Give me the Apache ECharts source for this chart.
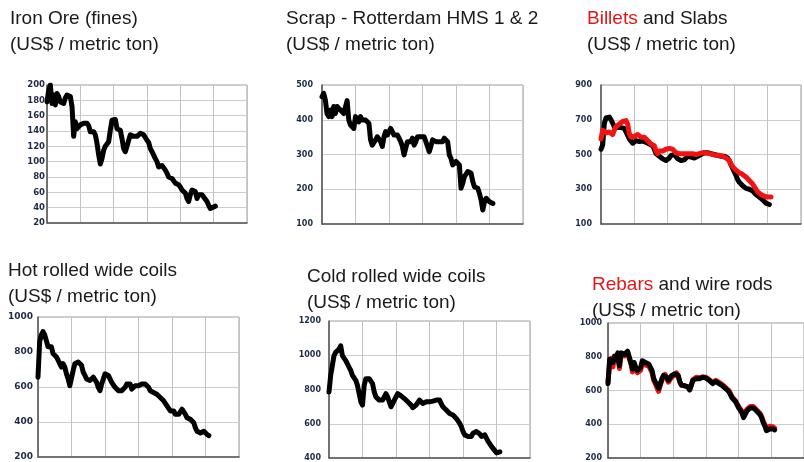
<!DOCTYPE html>
<html><head><meta charset="utf-8">
<script src="https://cdn.jsdelivr.net/npm/echarts@6/dist/echarts.min.js"></script>
<style>html,body{margin:0;padding:0;background:#fff}#c{width:804px;height:462px}</style>
</head><body><div id="c"></div>
<script>
// ---- data (half-step sampling along the time axis) ----
const ironOre = [178,193,200,176,187,174,189,185,178,180,176,183,187,189,185,172,133,152,143,145,148,148,150,151,150,147,139,139,139,135,124,109,97,104,115,120,120,126,141,154,155,155,143,141,141,130,117,113,120,128,135,137,133,135,133,135,137,139,135,133,128,125,117,113,115,104,100,93,95,95,93,89,85,80,80,78,76,72,70,70,67,63,63,59,52,48,57,63,65,61,52,57,59,57,54,52,48,43,39,41,41,42];
const scrap = [466,476,457,418,409,428,409,438,418,438,433,428,423,418,414,455,399,385,380,375,409,414,394,409,399,404,399,394,390,342,327,327,342,351,347,337,323,351,366,356,366,375,366,356,361,356,347,337,323,299,318,337,342,337,347,327,337,351,351,351,347,351,347,323,308,323,342,347,337,332,337,332,337,347,351,337,299,289,270,265,280,284,270,203,217,236,241,251,255,246,222,207,212,203,188,169,140,164,174,169,164,164,159];
const slabs = [530,555,680,710,720,715,700,680,660,650,655,650,655,660,650,640,610,590,580,565,570,580,575,575,580,578,575,570,565,560,555,550,530,505,495,490,480,475,470,465,465,480,495,505,500,490,475,470,465,465,470,480,490,490,485,480,480,485,490,495,500,505,510,515,510,505,505,500,500,495,495,490,490,495,490,485,480,465,440,420,400,380,355,340,330,320,310,305,300,300,295,290,280,270,265,255,245,240,230,220,212,212];
const billets = [590,640,645,625,620,630,625,615,640,660,670,675,680,690,690,695,675,620,600,590,605,595,615,605,600,605,600,595,580,570,560,555,550,520,505,520,510,520,525,530,530,535,530,530,525,510,505,505,510,505,500,505,510,505,500,505,500,500,505,505,505,510,510,508,505,505,500,500,495,495,490,495,490,490,485,480,475,465,445,430,420,410,400,395,390,385,380,370,360,350,345,330,315,300,285,275,270,265,260,258,255,252,255];
const hotRolled = [656,860,898,917,898,907,830,820,830,791,791,772,753,733,714,733,714,675,646,607,607,695,733,743,743,733,724,685,666,646,646,637,646,656,646,627,598,579,617,646,675,685,666,646,627,617,598,588,579,569,579,588,598,617,627,617,588,598,607,607,607,617,617,617,617,607,598,579,569,569,559,559,550,540,530,521,511,492,482,463,453,463,444,434,444,453,473,463,444,424,415,415,415,396,366,347,337,337,347,347,337,328,322];
const coldRolled = [785,882,940,998,1017,1007,1036,1055,998,988,969,950,930,911,882,872,853,824,776,728,709,824,863,872,863,853,834,786,757,757,738,728,738,757,776,757,728,699,718,738,757,776,770,763,757,747,738,728,718,709,694,699,709,718,738,738,718,709,728,738,728,728,732,738,738,747,738,718,699,689,680,670,660,651,651,641,631,622,603,583,555,535,545,526,516,526,545,555,555,545,540,526,526,535,526,497,487,468,458,443,430,430,436];
const wireRods = [641,785,785,766,804,785,823,747,823,833,814,814,833,823,766,727,766,737,718,718,737,776,776,766,766,756,737,718,670,651,632,612,641,670,689,699,679,660,670,689,679,699,708,689,651,632,632,628,632,622,603,632,660,670,670,679,670,679,679,679,673,670,660,651,641,651,654,647,641,632,628,622,612,603,593,574,555,545,535,526,497,487,468,439,458,478,487,497,487,497,487,478,468,458,439,410,391,362,353,372,382,372,366];
const rebars = [650,760,790,740,800,770,815,730,815,820,805,800,820,810,760,710,750,725,705,700,720,765,770,750,755,745,725,705,660,640,615,595,630,660,680,695,670,650,660,680,675,690,705,685,650,630,630,628,630,620,605,630,665,675,678,685,675,682,680,682,678,675,665,655,648,655,660,653,648,638,635,628,618,610,600,582,562,552,540,530,505,495,478,448,468,488,498,505,498,505,495,485,475,465,448,420,400,380,375,388,392,385,378];

const titles = [
  ['Iron Ore (fines)', '(US$ / metric ton)'],
  ['Scrap - Rotterdam HMS 1 & 2', '(US$ / metric ton)'],
  ['{r|Billets} and Slabs', '(US$ / metric ton)'],
  ['Hot rolled wide coils', '(US$ / metric ton)'],
  ['Cold rolled wide coils', '(US$ / metric ton)'],
  ['{r|Rebars} and wire rods', '(US$ / metric ton)']
];
const yRanges = [[20,200,20],[100,500,100],[100,900,200],[200,1000,200],[400,1200,200],[200,1000,200]];

// ---- layout / style ----
const BLACK = '#000000', RED = '#f21212';
const panels = [
  {grid:{left:47,top:85,width:200,height:138}, title:{left:10,top:6}, lab:8.5, mar:2, series:[[ironOre,BLACK]]},
  {grid:{left:322,top:85,width:201,height:139}, title:{left:286,top:6}, lab:8, mar:9, series:[[scrap,BLACK]]},
  {grid:{left:601,top:85,width:200,height:139}, title:{left:587,top:6}, lab:8, mar:9, series:[[slabs,BLACK],[billets,RED]]},
  {grid:{left:38,top:317,width:201,height:140}, title:{left:8,top:258}, lab:9, mar:5, series:[[hotRolled,BLACK]]},
  {grid:{left:329,top:321,width:201,height:138}, title:{left:307,top:264}, lab:8, mar:8, series:[[coldRolled,BLACK]]},
  {grid:{left:608,top:323,width:201,height:139}, title:{left:592,top:272}, lab:8, mar:6, series:[[rebars,RED],[wireRods,BLACK]]}
];

const titleStyle = {fontFamily:'Liberation Sans', fontSize:19, fontWeight:'normal', color:'#1a1a1a', lineHeight:26,
  rich:{r:{color:'#e3161b', fontFamily:'Liberation Sans', fontSize:19, lineHeight:26}}};

const option = {animation:false, backgroundColor:'#fff', title:[], grid:[], xAxis:[], yAxis:[], series:[]};
panels.forEach((p,k)=>{
  option.title.push({left:p.title.left, top:p.title.top, text:titles[k].join('\n'), textStyle:titleStyle, padding:0});
  option.grid.push(Object.assign({show:true, borderColor:'#9a9a9a', borderWidth:1, backgroundColor:'#fff'}, p.grid));
  option.xAxis.push({type:'value', gridIndex:k, min:0, max:120, interval:20,
    axisLabel:{show:false}, axisTick:{show:false},
    axisLine:{lineStyle:{color:'#555', width:1.5}},
    splitLine:{show:true, lineStyle:{color:'#c2c2c2', width:1}}});
  const yr = yRanges[k];
  option.yAxis.push({type:'value', gridIndex:k, min:yr[0], max:yr[1], interval:yr[2],
    axisTick:{show:false},
    axisLine:{show:true, lineStyle:{color:'#555', width:1.5}},
    axisLabel:{fontFamily:'DejaVu Sans', fontWeight:'bold', fontSize:p.lab, color:'#1e2a46', margin:p.mar,
      formatter:(v)=>String(v)},
    splitLine:{show:true, lineStyle:{color:'#cdcdcd', width:1}}});
  p.series.forEach((s,j)=>{
    option.series.push({type:'line', xAxisIndex:k, yAxisIndex:k, showSymbol:false, z:2+j,
      data:s[0].map((v,i)=>[i,v]),
      lineStyle:{color:s[1], width:5, join:'round', cap:'round'}});
  });
});
const chart = echarts.init(document.getElementById('c'), null, {renderer:'canvas'});
chart.setOption(option);
</script></body></html>
